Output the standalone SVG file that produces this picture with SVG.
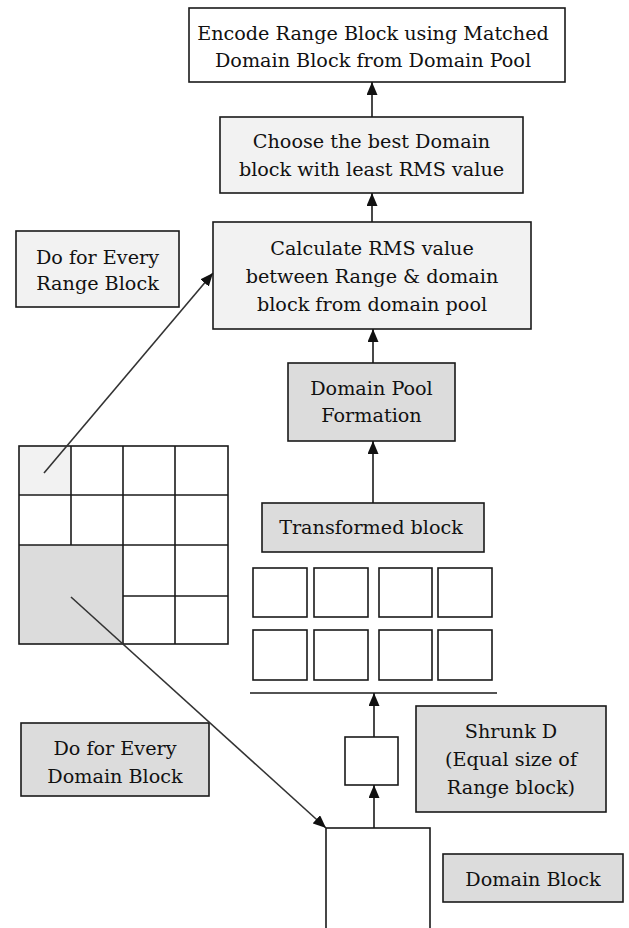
<svg xmlns="http://www.w3.org/2000/svg" width="629" height="928" viewBox="0 0 629 928">
<style>
.box{stroke:#1a1a1a;stroke-width:1.6}
.w{fill:#ffffff}
.l{fill:#f2f2f2}
.g{fill:#dcdcdc}
text{font-family:"DejaVu Serif","Liberation Serif",serif;font-size:19.2px;fill:#111;text-anchor:middle}
.cl{stroke:#1a1a1a;stroke-width:1.6;fill:none}
.cell{fill:#fff;stroke:#1a1a1a;stroke-width:1.6}
</style>
<defs>
<marker id="ah" markerWidth="13" markerHeight="11" refX="13" refY="5.5" orient="auto" markerUnits="userSpaceOnUse">
<path d="M0,0 L13,5.5 L0,11 Z" fill="#111"/>
</marker>
</defs>
<rect width="629" height="928" fill="#fff"/>

<g id="encode">
<rect class="box w" x="189" y="8" width="376" height="74"/>
<text x="373" y="40">Encode Range Block using Matched</text>
<text x="373" y="67">Domain Block from Domain Pool</text>
</g>
<g id="choose">
<rect class="box l" x="220" y="117" width="303" height="76"/>
<text x="371.5" y="148">Choose the best Domain</text>
<text x="371.5" y="176">block with least RMS value</text>
</g>
<g id="calculate">
<rect class="box l" x="213" y="222" width="318" height="107"/>
<text x="372" y="255">Calculate RMS value</text>
<text x="372" y="283">between Range &amp; domain</text>
<text x="372" y="311">block from domain pool</text>
</g>
<g id="range-label">
<rect class="box l" x="16" y="231" width="163" height="76"/>
<text x="97.5" y="264">Do for Every</text>
<text x="97.5" y="290">Range Block</text>
</g>
<g id="domain-pool">
<rect class="box g" x="288" y="363" width="167" height="78"/>
<text x="371.5" y="395">Domain Pool</text>
<text x="371.5" y="422">Formation</text>
</g>
<g id="transformed">
<rect class="box g" x="262" y="503" width="222" height="49"/>
<text x="371" y="534">Transformed block</text>
</g>
<g id="transformed-blocks">
<rect class="cell" x="253" y="568" width="54" height="49"/>
<rect class="cell" x="314" y="568" width="54" height="49"/>
<rect class="cell" x="379" y="568" width="53" height="49"/>
<rect class="cell" x="438" y="568" width="54" height="49"/>
<rect class="cell" x="253" y="630" width="54" height="50"/>
<rect class="cell" x="314" y="630" width="54" height="50"/>
<rect class="cell" x="379" y="630" width="53" height="50"/>
<rect class="cell" x="438" y="630" width="54" height="50"/>
</g>
<g id="range-grid">
<rect x="19" y="446" width="52" height="49" fill="#f2f2f2"/>
<rect x="19" y="545" width="104" height="99" fill="#dcdcdc"/>
<rect class="cl" x="19" y="446" width="209" height="198"/>
<line class="cl" x1="71" y1="446" x2="71" y2="545"/>
<line class="cl" x1="123" y1="446" x2="123" y2="644"/>
<line class="cl" x1="175" y1="446" x2="175" y2="644"/>
<line class="cl" x1="19" y1="495" x2="228" y2="495" stroke-width="2.6"/>
<line class="cl" x1="19" y1="545" x2="123" y2="545"/>
<line class="cl" x1="123" y1="545" x2="228" y2="545" stroke-width="2.2"/>
<line class="cl" x1="123" y1="596" x2="228" y2="596" stroke-width="2.6"/>
</g>
<g id="shrunk">
<rect class="box w" x="345" y="737" width="53" height="48"/>
</g>
<g id="shrunk-label">
<rect class="box g" x="416" y="706" width="190" height="106"/>
<text x="511" y="738">Shrunk D</text>
<text x="511" y="766">(Equal size of</text>
<text x="511" y="794">Range block)</text>
</g>
<g id="domain-block">
<rect class="box w" x="326" y="828" width="104" height="110"/>
</g>
<g id="domain-block-label">
<rect class="box g" x="443" y="854" width="180" height="48"/>
<text x="533" y="886">Domain Block</text>
</g>
<g id="domain-label">
<rect class="box g" x="21" y="723" width="188" height="73"/>
<text x="115" y="755">Do for Every</text>
<text x="115" y="783">Domain Block</text>
</g>

<g id="connectors" stroke="#1a1a1a" stroke-width="1.6" fill="none">
<line x1="372" y1="117" x2="372" y2="82" marker-end="url(#ah)"/>
<line x1="372" y1="222" x2="372" y2="193" marker-end="url(#ah)"/>
<line x1="373" y1="363" x2="373" y2="329" marker-end="url(#ah)"/>
<line x1="373" y1="503" x2="373" y2="441" marker-end="url(#ah)"/>
<line x1="250" y1="693" x2="497" y2="693"/>
<line x1="374" y1="737" x2="374" y2="693" marker-end="url(#ah)"/>
<line x1="374" y1="828" x2="374" y2="785" marker-end="url(#ah)"/>
<line x1="44" y1="473" x2="213" y2="273" marker-end="url(#ah)" stroke="#333"/>
<line x1="71" y1="597" x2="326" y2="828" marker-end="url(#ah)" stroke="#333"/>
</g>
</svg>
